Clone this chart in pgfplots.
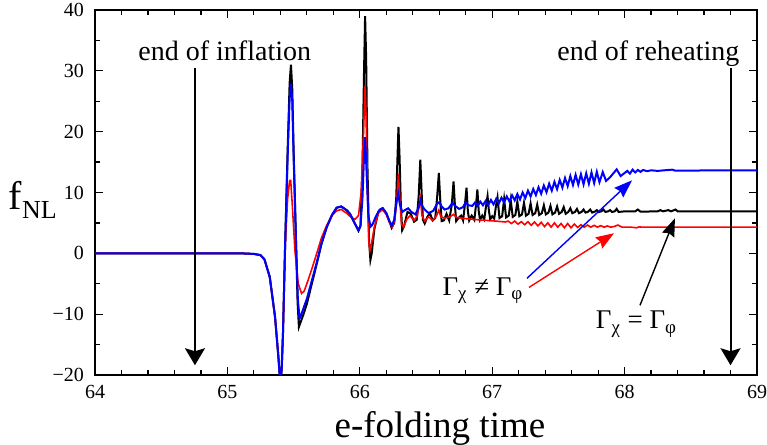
\documentclass[border=0pt]{standalone}
\usepackage{fontspec}
\setmainfont{Liberation Serif}
\usepackage{pgfplots}
\pgfplotsset{compat=1.18}
\usetikzlibrary{arrows.meta,calc}

\begin{document}
\begin{tikzpicture}
\begin{axis}[
  name=ax,
  scale only axis,
  width=331pt, height=182.5pt,
  xmin=64, xmax=69, ymin=-20, ymax=40,
  xtick={64,65,66,67,68,69},
  xticklabels={\hbox{64},\hbox{65},\hbox{66},\hbox{67},\hbox{68},\hbox{69}},
  ytick={-20,-10,0,10,20,30,40},
  yticklabels={\hbox{−20},\hbox{−10},\hbox{0},\hbox{10},\hbox{20},\hbox{30},\hbox{40}},
  minor x tick num=4, minor y tick num=1,
  tick align=inside,
  major tick length=4pt, minor tick length=2.5pt,
  tick style={black, line width=0.6pt},
  axis line style={line width=0.7pt},
  tick label style={font=\rmfamily\fontsize{10}{12}\selectfont},
  xticklabel style={yshift=-1.5pt},
  yticklabel style={xshift=-2pt},
  xlabel={e-folding time},
  xlabel style={font=\fontsize{18.5}{22}\selectfont,
    at={(axis description cs:0.521,-0.17)}, anchor=base},
  ylabel={{\fontsize{20}{24}\selectfont f}\raisebox{-4.5pt}{\fontsize{13}{15}\selectfont NL}},
  ylabel style={rotate=-90, at={(axis description cs:-0.094,0.481)}, anchor=center},
  clip=true,
]
% black: Gamma_chi = Gamma_phi
\addplot[black, line width=1pt] coordinates {
 (64,0) (65.1,0) (65.2,-0.1) (65.25,-0.3) (65.28,-1) (65.32,-3.9) (65.36,-10.5)
 (65.385,-17) (65.40,-21.5) (65.41,-19) (65.42,-13) (65.435,0.5) (65.455,17)
 (65.47,28) (65.48,31) (65.49,27) (65.50,17) (65.52,0.5) (65.53,-8) (65.54,-12.1)
 (65.55,-11.5) (65.575,-10) (65.60,-8.3) (65.64,-4.8) (65.675,-1.7) (65.71,1.5)
 (65.75,4.3) (65.79,6.3) (65.825,7.5) (65.86,7.7) (65.90,7.1) (65.926,6.5)
 (65.96,5) (65.99,3.7) (66.005,4.5) (66.02,14) (66.032,30) (66.04,39) (66.048,32)
 (66.058,14) (66.07,2) (66.08,-1.1) (66.09,0) (66.11,4) (66.14,6.8) (66.17,7.4)
 (66.20,6.6) (66.225,5.2) (66.24,4.2) (66.26,5) (66.275,9) (66.285,16)
 (66.292,20.8) (66.30,16) (66.31,8) (66.32,3.8) (66.335,4.5) (66.36,6.8)
 (66.385,6.5) (66.41,5.2) (66.43,5.5) (66.445,9.5) (66.457,15.4) (66.467,10)
 (66.477,5.5) (66.49,4.9) (66.51,6) (66.53,6.6) (66.55,5.4) (66.57,5.8)
 (66.585,9.5) (66.597,13.2) (66.607,9) (66.618,5.3) (66.635,5.4) (66.655,6.5)
 (66.675,5.4) (66.695,8) (66.708,11.8) (66.718,8) (66.728,5.3) (66.745,5.8)
 (66.765,6.2) (66.78,5.4) (66.795,8.2) (66.806,10.8) (66.816,7) (66.826,5.4)
 (66.845,6.2) (66.865,5.5) (66.878,8) (66.888,10.5) (66.898,7) (66.908,5.5)
 (66.925,6.2) (66.94,5.6) (66.955,8) (66.965,9.4) (66.975,7) (66.985,5.6)
 (67.00,6.1) (67.015,5.7) (67.03,8)
 (67.04,9.2) (67.055,5.8) (67.075,6.1)
 (67.09,8.9) (67.105,5.9) (67.125,6.2)
 (67.14,8.7) (67.155,6.0) (67.175,6.3)
 (67.19,8.5) (67.205,6.1) (67.225,6.4)
 (67.24,8.3) (67.255,6.2) (67.275,6.5)
 (67.29,8.2) (67.305,6.3) (67.325,6.6)
 (67.34,8.0) (67.355,6.3) (67.375,6.6)
 (67.39,7.9) (67.405,6.4) (67.425,6.7)
 (67.44,7.8) (67.455,6.4) (67.475,6.7)
 (67.49,7.7) (67.505,6.5) (67.525,6.8)
 (67.54,7.6) (67.555,6.5) (67.575,6.8)
 (67.59,7.4) (67.605,6.6) (67.625,6.8)
 (67.64,7.3) (67.655,6.6) (67.675,6.8)
 (67.69,7.2) (67.705,6.7) (67.725,6.85)
 (67.74,7.2) (67.755,6.7) (67.775,6.85)
 (67.79,7.1) (67.805,6.8) (67.825,6.9)
 (67.84,7.2) (67.855,6.8) (67.875,6.9)
 (67.89,7.1) (67.905,6.8) (67.925,6.9)
 (67.94,7.3) (67.955,6.8) (68.0,6.9)
 (68.08,6.9) (68.1,7.2) (68.12,6.85) (68.25,6.9) (68.27,7.1) (68.29,6.9)
 (68.33,7.1) (68.35,6.9) (68.385,7.2) (68.40,6.9) (69,6.9)
};
% red
\addplot[red, line width=0.8pt] coordinates {
 (64,0) (65.1,0) (65.2,-0.1) (65.25,-0.3) (65.28,-1) (65.32,-3.9) (65.36,-10.5)
 (65.385,-17) (65.40,-21.5) (65.41,-19) (65.42,-13) (65.435,0.5) (65.455,9)
 (65.47,12) (65.478,12) (65.49,8) (65.51,0.5) (65.535,-5) (65.56,-6.6)
 (65.58,-6.2) (65.60,-5) (65.64,-2.4) (65.675,0) (65.71,2.5) (65.75,4.6)
 (65.79,6.2) (65.825,7.0) (65.86,7.2) (65.90,6.6) (65.935,5.9) (65.964,5.6)
 (65.99,6.2) (66.01,10) (66.025,18) (66.04,27.6) (66.048,22) (66.058,10)
 (66.068,2) (66.077,0.5) (66.09,1.8) (66.11,4.3) (66.14,6.6) (66.17,7.2)
 (66.20,6.4) (66.225,5) (66.245,4.3) (66.265,5.5) (66.28,9) (66.292,13.1)
 (66.302,9) (66.315,4.8) (66.33,4.3) (66.355,5.6) (66.38,6.2) (66.41,5.4)
 (66.435,6.2) (66.457,9.0) (66.47,6.2) (66.49,5.3) (66.52,6.0) (66.55,5.4)
 (66.58,6.2) (66.597,7.1) (66.612,6.0) (66.64,5.8) (66.68,6.0) (66.708,6.4)
 (66.73,5.9) (66.80,5.7) (66.90,5.5) (67.00,5.35) (67.10,5.15) (67.12,5.3)
 (67.145,4.9) (67.17,5.3) (67.195,4.8) (67.22,5.2) (67.245,4.7) (67.27,5.2)
 (67.295,4.6) (67.32,5.15) (67.345,4.5) (67.37,5.1) (67.395,4.4) (67.42,5.0)
 (67.445,4.3) (67.47,5.0) (67.495,4.3) (67.52,4.9) (67.545,4.2) (67.57,4.9)
 (67.595,4.2) (67.62,4.8) (67.645,4.25) (67.67,4.7) (67.695,4.3) (67.72,4.65)
 (67.745,4.3) (67.77,4.6) (67.795,4.3) (67.82,4.55) (67.845,4.3) (67.87,4.5)
 (67.895,4.3) (67.92,4.4) (67.95,4.65) (67.98,4.3) (68.05,4.3) (68.09,4.2)
 (68.11,4.35) (68.13,4.3) (69,4.3)
};
% blue
\addplot[blue, line width=1pt] coordinates {
 (64,0) (65.1,0) (65.2,-0.1) (65.25,-0.3) (65.28,-1) (65.32,-3.9) (65.36,-10.5)
 (65.385,-17) (65.40,-21.5) (65.41,-19) (65.42,-13) (65.435,0.5) (65.455,16)
 (65.47,25.5) (65.48,27.9) (65.49,25) (65.50,16) (65.52,0.5) (65.532,-7.5)
 (65.545,-10.7) (65.555,-10.3) (65.575,-9) (65.60,-7.5) (65.64,-4.3)
 (65.675,-1.5) (65.71,1.6) (65.75,4.3) (65.79,6.3) (65.825,7.5) (65.86,7.7)
 (65.90,7.1) (65.926,6.5) (65.96,5) (65.99,3.8) (66.005,4.5) (66.02,9)
 (66.032,16) (66.04,19.1) (66.05,14) (66.065,6) (66.082,4.4) (66.095,4.7)
 (66.12,6) (66.15,7.2) (66.175,7.4) (66.20,6.6) (66.225,5.2) (66.242,4.6)
 (66.26,5.5) (66.278,8.5) (66.29,9.8) (66.303,8) (66.32,6.8) (66.34,7.1)
 (66.365,7.4) (66.39,6.8) (66.42,6.4) (66.445,7.5) (66.458,8.7) (66.47,7.8)
 (66.49,7.2) (66.52,6.6) (66.555,7.0) (66.585,8.2) (66.60,8.4) (66.615,7.8)
 (66.64,7.2) (66.67,7.4) (66.70,8.3) (66.72,7.8) (66.75,7.3) (66.78,7.6)
 (66.80,8.4) (66.82,7.9) (66.85,7.8) (66.87,8.35) (66.89,7.8) (66.91,8.5)
 (66.93,7.9) (66.95,8.6) (66.97,7.95) (66.99,8.77) (67.01,8.05) (67.03,8.95)
 (67.05,8.2) (67.07,9.15) (67.09,8.37) (67.11,9.35) (67.13,8.53) (67.15,9.55)
 (67.17,8.7) (67.19,9.76) (67.21,8.86) (67.23,10.0) (67.25,9.1) (67.27,10.3)
 (67.29,9.34) (67.31,10.57) (67.33,9.58) (67.35,10.86) (67.37,9.8) (67.39,11.14)
 (67.41,10.05) (67.43,11.45) (67.45,10.3) (67.47,11.75) (67.49,10.55)
 (67.51,12.07) (67.53,10.8) (67.55,12.38) (67.57,11.05) (67.59,12.7)
 (67.61,11.23) (67.63,12.9) (67.65,11.3) (67.67,13.0) (67.69,11.35)
 (67.71,13.15) (67.73,11.45) (67.75,13.3) (67.77,11.55) (67.79,13.4)
 (67.81,11.7) (67.835,13.35) (67.86,11.9) (67.89,12.5) (67.94,13.8)
 (67.97,12.7) (68.02,13.55) (68.04,13.1) (68.06,13.75) (68.08,13.3)
 (68.10,13.7) (68.12,13.4) (68.14,13.7) (68.17,13.5) (68.20,13.65)
 (68.25,13.55) (68.30,13.65) (68.36,13.75) (68.38,13.6) (69,13.65)
};
% annotations
\node[font=\fontsize{14}{16}\selectfont, anchor=base] at (axis cs:64.98,31.7) {end of inflation};
\node[font=\fontsize{14}{16}\selectfont, anchor=base] at (axis cs:68.18,31.7) {end of reheating};
\draw[-{Stealth[length=8.5pt,width=10pt,inset=1.5pt]}, line width=1pt]
  (axis cs:64.755,30.5) -- (axis cs:64.755,-18.4);
\draw[-{Stealth[length=8.5pt,width=10pt,inset=1.5pt]}, line width=1pt]
  (axis cs:68.80,30.5) -- (axis cs:68.80,-18.4);
\node[font=\fontsize{13.5}{16}\selectfont, anchor=base] at (axis cs:66.93,-6.9)
  {Γ\textsubscript{χ} ≠ Γ\textsubscript{φ}};
\node[font=\fontsize{13.5}{16}\selectfont, anchor=base] at (axis cs:68.09,-12.4)
  {Γ\textsubscript{χ} = Γ\textsubscript{φ}};
\draw[blue, -{Stealth[length=9pt,width=6.5pt,inset=1pt]}, line width=0.7pt]
  (axis cs:67.263,-4.1) -- (axis cs:68.056,12.0);
\draw[red, -{Stealth[length=9pt,width=6.5pt,inset=1pt]}, line width=0.7pt]
  (axis cs:67.278,-5.6) -- (axis cs:67.92,3.3);
\draw[black, -{Stealth[length=9pt,width=6.5pt,inset=1pt]}, line width=0.7pt]
  (axis cs:68.116,-8.55) -- (axis cs:68.38,5.76);
\end{axis}
\pgfresetboundingbox
\path ($(ax.south west)+(-47.5pt,-35pt)$) rectangle ($(ax.north east)+(5pt,5pt)$);
\end{tikzpicture}
\end{document}
